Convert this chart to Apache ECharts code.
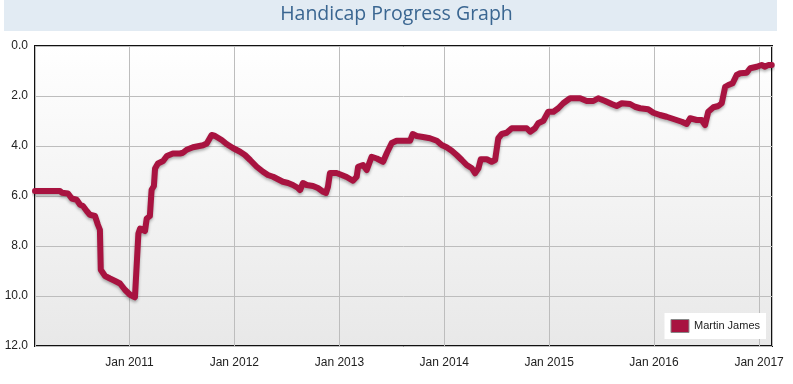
<!DOCTYPE html>
<html>
<head>
<meta charset="utf-8">
<script src="https://cdn.jsdelivr.net/npm/echarts@6/dist/echarts.min.js"></script>
<style>
html,body{margin:0;padding:0;background:#fff;}
#chart{width:793px;height:384px;}
</style>
</head>
<body>
<div id="chart"></div>
<script>
const titleText = 'Handicap Progress Graph';
const seriesName = 'Martin James';
const xMin = '2010-02-06';
const xMax = '2017-02-15';
const yTicks = [0, 2, 4, 6, 8, 10, 12];

const dates = [
 '2010-02-06','2010-05-04','2010-05-11','2010-06-01','2010-06-14','2010-07-01','2010-07-13','2010-07-23',
 '2010-08-05','2010-08-16','2010-09-03','2010-09-13','2010-09-20','2010-09-23','2010-10-08','2010-10-25',
 '2010-11-12','2010-11-29','2010-12-16','2011-01-03','2011-01-20','2011-02-01','2011-02-07','2011-02-24',
 '2011-03-02','2011-03-13','2011-03-19','2011-03-27','2011-03-31','2011-04-10','2011-04-28','2011-05-11',
 '2011-06-01','2011-06-26','2011-07-06','2011-07-19','2011-08-10','2011-09-14','2011-09-27','2011-10-14',
 '2011-10-26','2011-11-18','2011-12-05','2011-12-27','2012-01-21','2012-02-07','2012-02-25','2012-03-19',
 '2012-04-10','2012-04-27','2012-05-15','2012-06-01','2012-06-18','2012-07-06','2012-07-23','2012-08-10',
 '2012-08-17','2012-08-27','2012-09-09','2012-10-01','2012-10-18','2012-11-05','2012-11-15','2012-11-22',
 '2012-11-29','2012-12-05','2012-12-22','2013-01-09','2013-01-26','2013-02-17','2013-03-02','2013-03-07',
 '2013-03-24','2013-04-06','2013-04-23','2013-05-11','2013-06-02','2013-06-15','2013-07-02','2013-07-19',
 '2013-09-04','2013-09-13','2013-09-27','2013-10-19','2013-11-12','2013-12-06','2013-12-23','2014-01-09',
 '2014-01-27','2014-02-13','2014-03-03','2014-03-20','2014-04-07','2014-04-18','2014-04-30','2014-05-08',
 '2014-05-29','2014-06-15','2014-06-27','2014-07-08','2014-07-20','2014-08-06','2014-08-24','2014-10-15',
 '2014-10-27','2014-11-13','2014-11-24','2014-12-12','2014-12-29','2015-01-16','2015-02-02','2015-02-19',
 '2015-03-15','2015-04-19','2015-05-12','2015-06-04','2015-06-21','2015-07-15','2015-08-07','2015-08-24',
 '2015-09-11','2015-10-10','2015-10-27','2015-11-14','2015-12-12','2015-12-30','2016-01-22','2016-02-14',
 '2016-03-09','2016-04-07','2016-04-24','2016-05-06','2016-05-29','2016-06-15','2016-06-27','2016-07-08',
 '2016-07-26','2016-08-12','2016-08-24','2016-09-05','2016-09-16','2016-10-01','2016-10-15','2016-10-27',
 '2016-11-19','2016-12-01','2016-12-24','2017-01-10','2017-01-22','2017-02-02','2017-02-14'
];
const handicap = [
 5.8,5.8,5.87,5.9,6.1,6.15,6.35,6.4,
 6.6,6.75,6.8,7.15,7.35,8.95,9.2,9.3,
 9.4,9.5,9.75,9.95,10.05,7.5,7.3,7.4,
 6.9,6.8,5.75,5.6,4.9,4.7,4.6,4.4,
 4.3,4.3,4.27,4.15,4.05,3.97,3.9,3.56,
 3.6,3.76,3.92,4.08,4.23,4.36,4.56,4.83,
 5.03,5.16,5.23,5.33,5.43,5.48,5.56,5.68,
 5.76,5.48,5.56,5.6,5.68,5.83,5.88,5.63,
 5.08,5.03,5.08,5.16,5.24,5.39,5.23,4.83,
 4.76,4.96,4.43,4.5,4.63,4.28,3.88,3.79,
 3.79,3.52,3.6,3.64,3.69,3.79,3.96,4.05,
 4.19,4.36,4.56,4.76,4.89,5.09,4.89,4.53,
 4.53,4.63,4.56,3.69,3.52,3.47,3.29,3.29,
 3.43,3.29,3.09,2.99,2.63,2.63,2.49,2.29,
 2.09,2.09,2.2,2.2,2.09,2.2,2.32,2.4,
 2.29,2.32,2.43,2.49,2.53,2.67,2.76,2.83,
 2.92,3.03,3.12,2.89,2.96,2.96,3.16,2.63,
 2.45,2.4,2.29,1.63,1.56,1.49,1.16,1.09,
 1.07,0.89,0.83,0.76,0.83,0.76,0.76
];

const chart = echarts.init(document.getElementById('chart'), null, {renderer: 'canvas'});
const seriesData = dates.map((d, i) => [d, handicap[i]]);

chart.setOption({
  animation: false,
  backgroundColor: '#ffffff',
  graphic: [
    {type: 'rect', left: 4, top: 0, shape: {width: 773, height: 31}, style: {fill: '#e2ebf3'}, z: 0},
    {type: 'text', left: 'center', top: 4, style: {text: titleText, fill: '#3a6691', font: '19.5px "Open Sans", "Noto Sans", sans-serif'}, z: 1}
  ],
  grid: {
    left: 35, right: 21, top: 46, bottom: 38,
    show: true,
    borderColor: '#111',
    borderWidth: 2,
    backgroundColor: new echarts.graphic.LinearGradient(0, 0, 0, 1, [
      {offset: 0, color: '#ffffff'},
      {offset: 1, color: '#e8e8e8'}
    ])
  },
  legend: {
    data: [seriesName],
    right: 27,
    top: 313,
    icon: 'rect',
    itemWidth: 18,
    itemHeight: 13,
    padding: [6, 6, 6, 6],
    backgroundColor: '#ffffff',
    itemStyle: {color: '#a81340', borderColor: '#888', borderWidth: 1},
    textStyle: {color: '#222', fontSize: 11, fontFamily: 'Liberation Sans, Arial, sans-serif'}
  },
  xAxis: {
    type: 'time',
    min: xMin,
    max: xMax,
    splitNumber: 7,
    minInterval: 365 * 24 * 3600 * 1000,
    maxInterval: 366 * 24 * 3600 * 1000,
    axisLine: {show: false},
    axisTick: {show: false},
    axisLabel: {
      color: '#222',
      fontSize: 12,
      fontFamily: 'Liberation Sans, Arial, sans-serif',
      margin: 11,
      hideOverlap: false,
      showMinLabel: true,
      showMaxLabel: true,
      formatter: function (v) {
        const d = new Date(v);
        if (d.getMonth() === 0 && d.getDate() === 1) return 'Jan ' + d.getFullYear();
        return '';
      }
    },
    splitLine: {show: true, lineStyle: {color: '#bdbdbd', width: 1}}
  },
  yAxis: {
    type: 'value',
    inverse: true,
    min: yTicks[0],
    max: yTicks[yTicks.length - 1],
    interval: 2,
    axisLine: {show: false},
    axisTick: {show: false},
    axisLabel: {
      color: '#222',
      fontSize: 12,
      fontFamily: 'Liberation Sans, Arial, sans-serif',
      margin: 7,
      formatter: v => v.toFixed(1)
    },
    splitLine: {show: true, lineStyle: {color: '#bdbdbd', width: 1}}
  },
  series: [{
    name: seriesName,
    type: 'line',
    data: seriesData,
    showSymbol: false,
    symbol: 'none',
    color: '#a81340',
    lineStyle: {
      color: '#a81340',
      width: 6,
      join: 'round',
      cap: 'round',
      shadowColor: 'rgba(0,0,0,0.3)',
      shadowBlur: 3,
      shadowOffsetY: 2
    },
    z: 3
  }]
});
</script>
</body>
</html>
